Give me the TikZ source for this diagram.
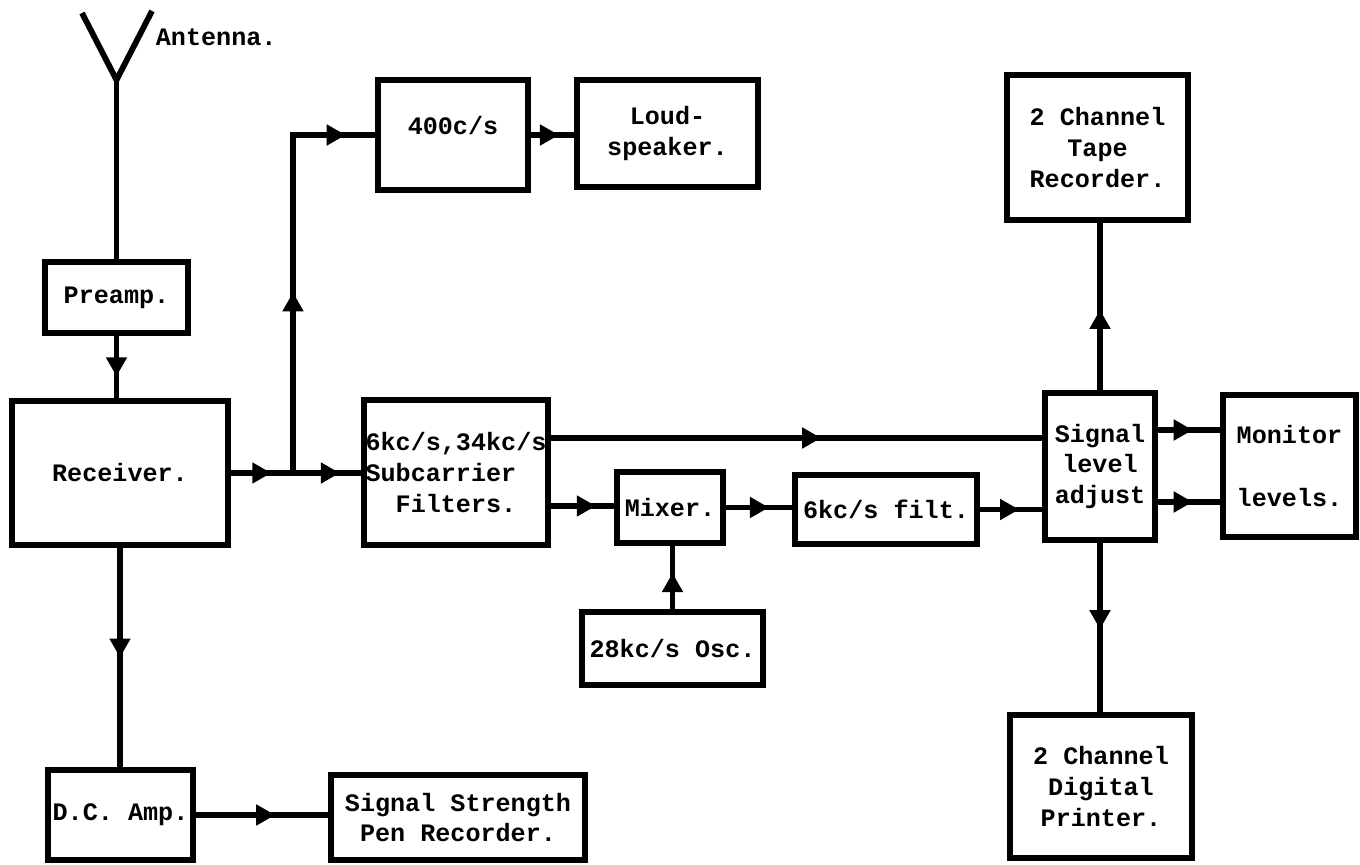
\documentclass[tikz,border=0pt]{standalone}
\usepackage{fontspec}
\setmonofont{Liberation Mono}
\usetikzlibrary{arrows.meta,decorations.markings,calc}

\begin{document}
\begin{tikzpicture}[x=0.02cm, y=-0.02cm,
  font=\ttfamily\bfseries\fontsize{14.3}{17.6}\selectfont,
  line width=3.3pt,
  block/.style 2 args={draw, line width=3.3pt, minimum width=#1*0.02cm, minimum height=#2*0.02cm, inner sep=1pt, align=center},
  flow/.style={postaction={decorate, decoration={markings, mark=at position #1 with {\arrow{Triangle[length=3.8mm, width=4mm]}}}}}
]
  \useasboundingbox (0,0) rectangle (1360,865);

  \node[block={143}{71}] (preamp) at (116.5,297.5) {Preamp.};
  \node[block={216}{144}] (receiver) at (120,473) {Receiver.};
  \node[block={182}{145}, align=left] (filters) at (456,472.5) {6kc/s,34kc/s\\Subcarrier\\\hspace*{1.2em}Filters.};
  \node[block={150}{110}] (f400) at (453,135) {400c/s\\[-0.22cm]};
  \node[block={181}{107}] (speaker) at (667.5,133.5) {Loud-\\speaker.};
  \node[block={106}{71}] (mixer) at (670,507.5) {Mixer.};
  \node[block={182}{69}] (sixfilt) at (886,509.5) {6kc/s filt.};
  \node[block={181}{73}] (osc) at (672.5,648.5) {28kc/s Osc.};
  \node[block={110}{147}] (signal) at (1100,466.5) {Signal\\level\\adjust};
  \node[block={133}{142}] (monitor) at (1289.5,466) {Monitor\\[0.63cm]levels.};
  \node[block={181}{145}] (tape) at (1097.5,147.5) {2 Channel\\Tape\\Recorder.};
  \node[block={182}{143}] (printer) at (1101,786.5) {2 Channel\\Digital\\Printer.};
  \node[block={145}{90}] (dcamp) at (120.5,815) {D.C. Amp.};
  \node[block={254}{85}] (pen) at (458,817.5) {Signal Strength\\Pen Recorder.};

  \coordinate (antenna) at (116.5,80);
  \draw (82,13) -- (antenna) -- (152,11);
  \draw (antenna) -- (preamp.north);
  \node[anchor=west, inner sep=0pt] (antlabel) at (153,37) {Antenna.};

  \coordinate (split) at (293,473);
  \coordinate (fup) at ([yshift=0.69cm]filters.east);
  \coordinate (fdown) at ([yshift=-0.67cm]filters.east);
  \coordinate (sigup) at ([yshift=0.73cm]signal.east);
  \coordinate (sigdown) at ([yshift=-0.71cm]signal.east);

  \draw[flow=0.65] (preamp.south) -- (preamp.south |- receiver.north);
  \draw[flow=0.65] (receiver.east) -- (split);
  \draw[flow=0.69] (split) -- (split -| filters.west);
  \draw[flow=0.43, flow=0.93] (split) |- (f400.west);
  \draw[flow=0.65] (f400.east) -- (f400.east -| speaker.west);
  \draw[flow=0.55] (fup) -- (fup -| signal.west);
  \draw[flow=0.71] (fdown) -- (fdown -| mixer.west);
  \draw[flow=0.65] (mixer.east) -- (mixer.east -| sixfilt.west);
  \draw[flow=0.57] (osc.north) -- (osc.north |- mixer.south);
  \draw[flow=0.63] (sixfilt.east) -- (sixfilt.east -| signal.west);
  \draw[flow=0.56] (sigup) -- (sigup -| monitor.west);
  \draw[flow=0.56] (sigdown) -- (sigdown -| monitor.west);
  \draw[flow=0.48] (signal.north) -- (signal.north |- tape.south);
  \draw[flow=0.51] (signal.south) -- (signal.south |- printer.north);
  \draw[flow=0.5] (receiver.south) -- (receiver.south |- dcamp.north);
  \draw[flow=0.6] (dcamp.east) -- (dcamp.east -| pen.west);
\end{tikzpicture}
\end{document}
